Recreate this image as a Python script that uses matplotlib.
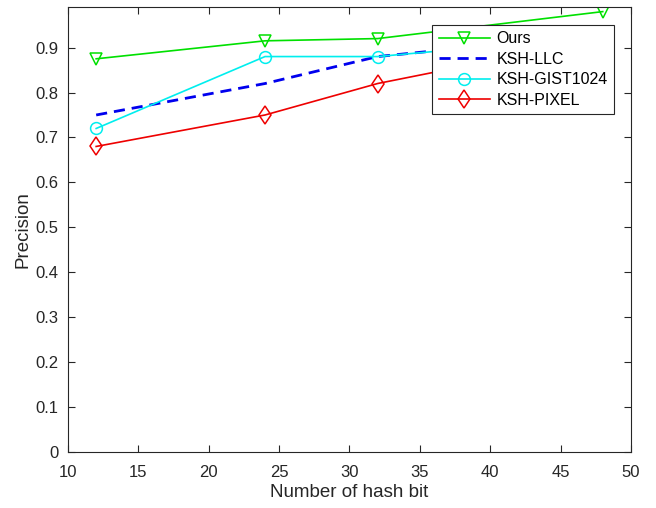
import matplotlib
matplotlib.use("Agg")
import matplotlib.pyplot as plt

plt.rcParams['font.family'] = ['Liberation Sans', 'DejaVu Sans']

# hash bit lengths
bits = [12, 24, 32, 48]

# precision values
ours = [0.875, 0.915, 0.92, 0.98]
ksh_llc = [0.75, 0.82, 0.88, 0.93]
ksh_gist = [0.72, 0.88, 0.88, 0.925]
ksh_pixel = [0.68, 0.75, 0.82, 0.92]

labels = ["Ours", "KSH-LLC", "KSH-GIST1024", "KSH-PIXEL"]
x_ticks = [10, 15, 20, 25, 30, 35, 40, 45, 50]
y_ticks = [0, 0.1, 0.2, 0.3, 0.4, 0.5, 0.6, 0.7, 0.8, 0.9]
y_tick_labels = ["0", "0.1", "0.2", "0.3", "0.4", "0.5", "0.6", "0.7", "0.8", "0.9"]

fig = plt.figure(figsize=(6.56, 5.08), dpi=100)
ax = fig.add_axes([0.1037, 0.110, 0.858, 0.876])

ax.plot(bits, ours, color="#00e000", marker="v", markersize=9,
        markerfacecolor="none", markeredgewidth=1.1, linewidth=1.2, label=labels[0])
ax.plot(bits, ksh_llc, color="#0000ee", linestyle=(0, (4, 2.5)), linewidth=2.0, label=labels[1])
ax.plot(bits, ksh_gist, color="#00eeee", marker="o", markersize=8.5,
        markerfacecolor="none", markeredgewidth=1.1, linewidth=1.2, label=labels[2])
ax.plot(bits, ksh_pixel, color="#ee0000", marker="d", markersize=9.5,
        markerfacecolor="none", markeredgewidth=1.1, linewidth=1.2, label=labels[3])

ax.set_xlim(10, 50)
ax.set_ylim(0, 0.99)
ax.set_xticks(x_ticks)
ax.set_yticks(y_ticks)
ax.set_yticklabels(y_tick_labels)

ax.tick_params(direction="in", top=True, right=True, length=5, width=0.8,
               labelsize=12, colors="#262626")
ax.tick_params(axis="x", pad=9)
ax.tick_params(axis="y", pad=7)
for s in ax.spines.values():
    s.set_color("#262626")
    s.set_linewidth(0.8)

ax.set_xlabel("Number of hash bit", fontsize=13.5, color="#262626", labelpad=3)
ax.set_ylabel("Precision", fontsize=13.5, color="#262626", labelpad=3)

leg = ax.legend(loc="upper right", bbox_to_anchor=(0.970, 0.960), fontsize=11.5,
                handlelength=3.2, handletextpad=0.4, labelspacing=0.35,
                borderpad=0.4, borderaxespad=0, fancybox=False, framealpha=1)
leg.get_frame().set_edgecolor("#262626")
leg.get_frame().set_linewidth(0.8)

fig.savefig("out.png", dpi=100)
